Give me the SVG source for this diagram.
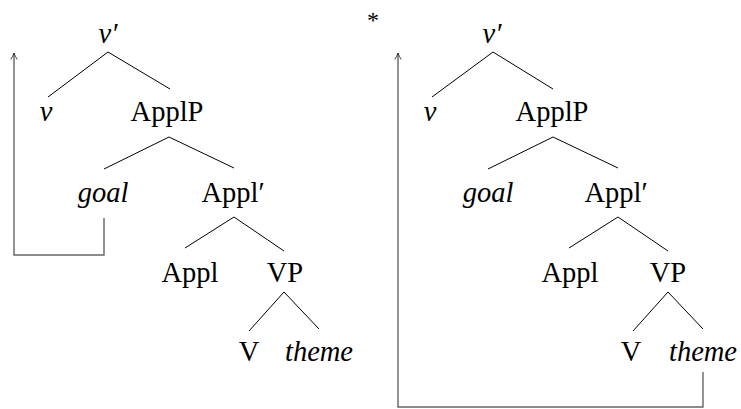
<svg xmlns="http://www.w3.org/2000/svg" width="741" height="409" viewBox="0 0 741 409">
<defs>
<marker id="arr" viewBox="0 0 10 10" refX="9" refY="5" markerWidth="8" markerHeight="8" markerUnits="userSpaceOnUse" orient="auto">
<path d="M1,1 Q5,4 9,5 Q5,6 1,9" fill="none" stroke="#333" stroke-width="1.2"/>
</marker>
<style>
text{font-family:"Liberation Serif","DejaVu Serif",serif;font-size:28.5px;fill:#000;text-anchor:middle}
.i{font-style:italic}
.e{stroke:#000;stroke-width:1;fill:none}
.m{stroke:#666;stroke-width:1.4;fill:none}
.s{font-size:24px}
</style>
</defs>
<g id="edges">
<path class="e" d="M108,52 L48,97 M108,52 L170,89 M169,137 L104,169 M169,137 L234,168 M234,217 L185,248 M234,217 L284,251 M284,292 L249,331 M284,292 L319,329"/>
<path class="e" d="M493,52 L432,97 M493,52 L553,89 M553,137 L488,169 M553,137 L618,168 M618,217 L569,248 M618,217 L668,251 M668,292 L633,331 M668,292 L703,329"/>
</g>
<g id="movement">
<path class="m" d="M104,218 L104,255 L14,255 L14,53" marker-end="url(#arr)"/>
<path class="m" d="M703,372 L703,407 L398,407 L398,53" marker-end="url(#arr)"/>
</g>
<g id="tree1">
<g id="t1-vbar"><text class="i" x="108" y="43">v′</text></g>
<g id="t1-v"><text class="i" x="46" y="121">v</text></g>
<g id="t1-applp"><text x="167" y="121">ApplP</text></g>
<g id="t1-goal"><text class="i" x="103" y="202">goal</text></g>
<g id="t1-applbar"><text x="233" y="202">Appl′</text></g>
<g id="t1-appl"><text x="190" y="282">Appl</text></g>
<g id="t1-vp"><text x="285" y="282">VP</text></g>
<g id="t1-V"><text x="249" y="361">V</text></g>
<g id="t1-theme"><text class="i" x="319" y="361">theme</text></g>
</g>
<g id="star"><text class="s" x="373" y="28">*</text></g>
<g id="tree2">
<g id="t2-vbar"><text class="i" x="492" y="43">v′</text></g>
<g id="t2-v"><text class="i" x="430" y="121">v</text></g>
<g id="t2-applp"><text x="552" y="121">ApplP</text></g>
<g id="t2-goal"><text class="i" x="488" y="202">goal</text></g>
<g id="t2-applbar"><text x="616" y="202">Appl′</text></g>
<g id="t2-appl"><text x="570" y="282">Appl</text></g>
<g id="t2-vp"><text x="668" y="282">VP</text></g>
<g id="t2-V"><text x="631" y="361">V</text></g>
<g id="t2-theme"><text class="i" x="703" y="361">theme</text></g>
</g>
</svg>
